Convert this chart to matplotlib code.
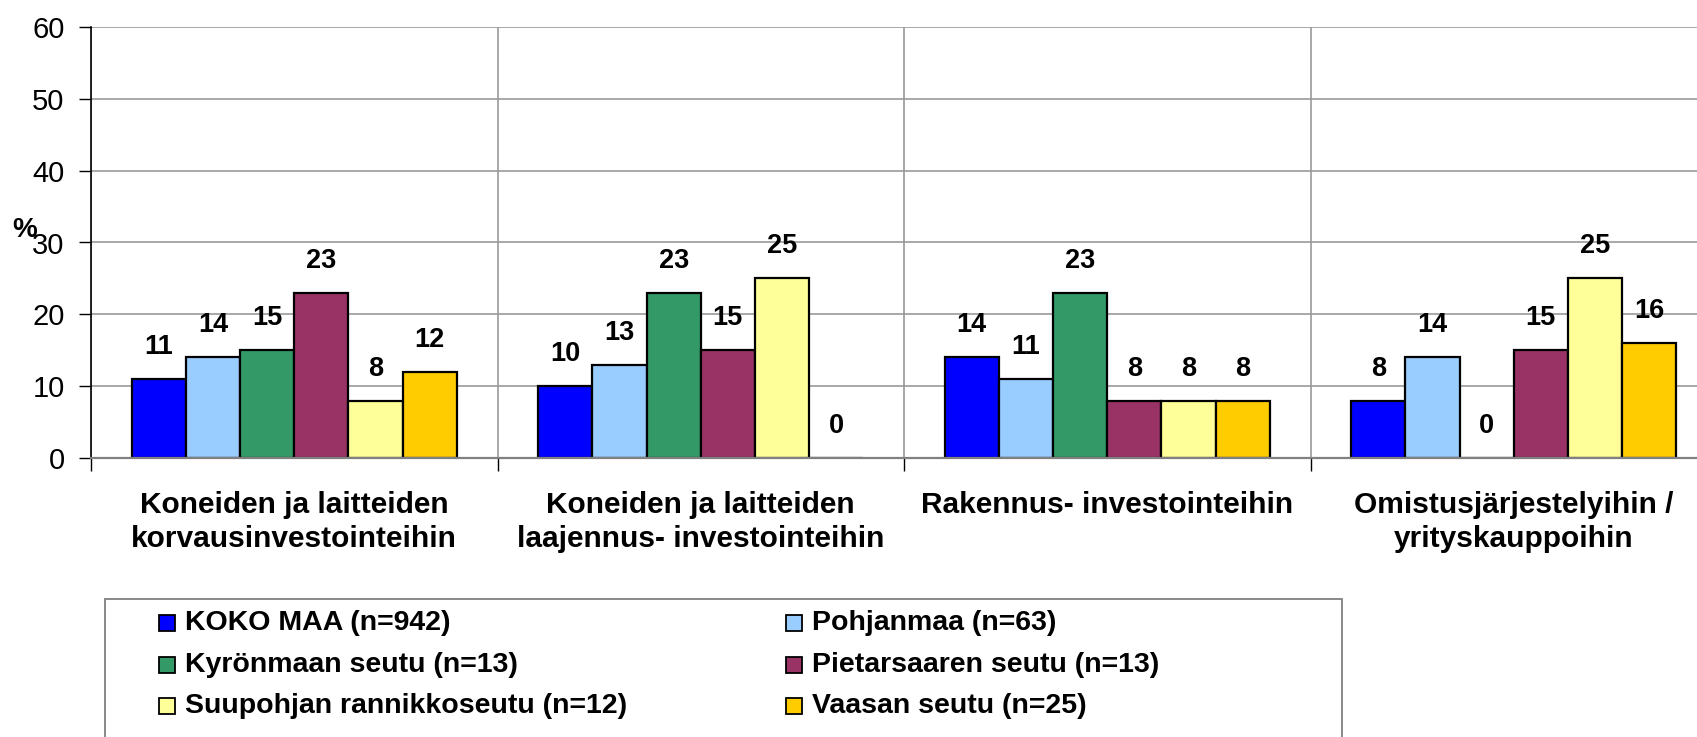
import numpy as np
import matplotlib.pyplot as plt
from matplotlib.patches import Rectangle

# =====================================================
# Data
# =====================================================

categories = [
    "Koneiden ja laitteiden\nkorvausinvestointeihin",
    "Koneiden ja laitteiden\nlaajennus- investointeihin",
    "Rakennus- investointeihin",
    "Omistusjärjestelyihin /\nyrityskauppoihin",
]

series = [
    "KOKO MAA (n=942)",
    "Pohjanmaa (n=63)",
    "Kyrönmaan seutu (n=13)",
    "Pietarsaaren seutu (n=13)",
    "Suupohjan rannikkoseutu (n=12)",
    "Vaasan seutu (n=25)",
]

koko_maa = [11, 10, 14, 8]
pohjanmaa = [14, 13, 11, 14]
kyronmaa = [15, 23, 23, 0]
pietarsaari = [23, 15, 8, 15]
suupohja = [8, 25, 8, 25]
vaasa = [12, 0, 8, 16]

values = [koko_maa, pohjanmaa, kyronmaa, pietarsaari, suupohja, vaasa]

colors = ["#0000FF", "#99CCFF", "#339966", "#993366", "#FFFF99", "#FFCC00"]

yticks = [0, 10, 20, 30, 40, 50, 60]

# =====================================================
# Figure
# =====================================================

plt.rcParams['font.family'] = ['Liberation Sans', 'DejaVu Sans']

W, H = 1697, 737
fig = plt.figure(figsize=(W / 100, H / 100), dpi=100)

ax = fig.add_axes([91 / W, 1 - 458 / H, (1717 - 91) / W, (458 - 27) / H])

n = len(series)
group = 0.8
bw = group / n
centers = np.arange(len(categories)) + 0.5

for i in range(n):
    xs = centers + (i - (n - 1) / 2) * bw
    ax.bar(
        xs, values[i], width=bw,
        color=colors[i], edgecolor="black", linewidth=1.6,
        label=series[i], zorder=3
    )
    for x, v in zip(xs, values[i]):
        ax.annotate(
            str(v), (x, v),
            xytext=(0, 23), textcoords="offset points",
            ha="center", va="center",
            fontsize=19.5, fontweight="bold"
        )

ax.set_xlim(0, len(categories))
ax.set_ylim(0, 60)

ax.set_yticks(yticks)
ax.tick_params(axis="y", labelsize=21, length=9, width=1, pad=10)

ax.set_xticks(centers)
ax.set_xticklabels(categories, fontsize=21.5, fontweight="bold", linespacing=1.25)
ax.tick_params(axis="x", which="major", length=0, pad=24)
ax.set_xticks(np.arange(len(categories) + 1), minor=True)
ax.tick_params(axis="x", which="minor", length=9, width=1, color="black")

ax.grid(axis="y", which="major", color="#9A9A9A", linewidth=1.2, zorder=0)
ax.grid(axis="x", which="minor", color="#9A9A9A", linewidth=1.2, zorder=0)
ax.set_axisbelow(True)

ax.spines["top"].set_visible(False)
ax.spines["right"].set_visible(False)
ax.spines["left"].set_color("black")
ax.spines["left"].set_linewidth(1.2)
ax.spines["bottom"].set_color("#808080")
ax.spines["bottom"].set_linewidth(1.6)
ax.spines["bottom"].set_zorder(4)

fig.text(25 / W, 1 - 230 / H, "%", fontsize=20, fontweight="bold",
         ha="center", va="center")

# =====================================================
# Legend (manual, box runs off the bottom)
# =====================================================

fig.patches.append(Rectangle(
    (105 / W, -0.05), (1342 - 105) / W, (1 - 599 / H) + 0.05,
    transform=fig.transFigure, fill=False,
    edgecolor="#808080", linewidth=1.3
))

col_x = [159, 786]
row_y = [623, 665, 706]
for i, name in enumerate(series):
    cx = col_x[i % 2]
    cy = row_y[i // 2]
    fig.patches.append(Rectangle(
        (cx / W, 1 - (cy + 8) / H), 16 / W, 16 / H,
        transform=fig.transFigure,
        facecolor=colors[i], edgecolor="black", linewidth=1.3
    ))
    fig.text((cx + 26) / W, 1 - cy / H, name,
             fontsize=20.5, fontweight="bold", ha="left", va="center")

fig.savefig("out.png", dpi=100)
